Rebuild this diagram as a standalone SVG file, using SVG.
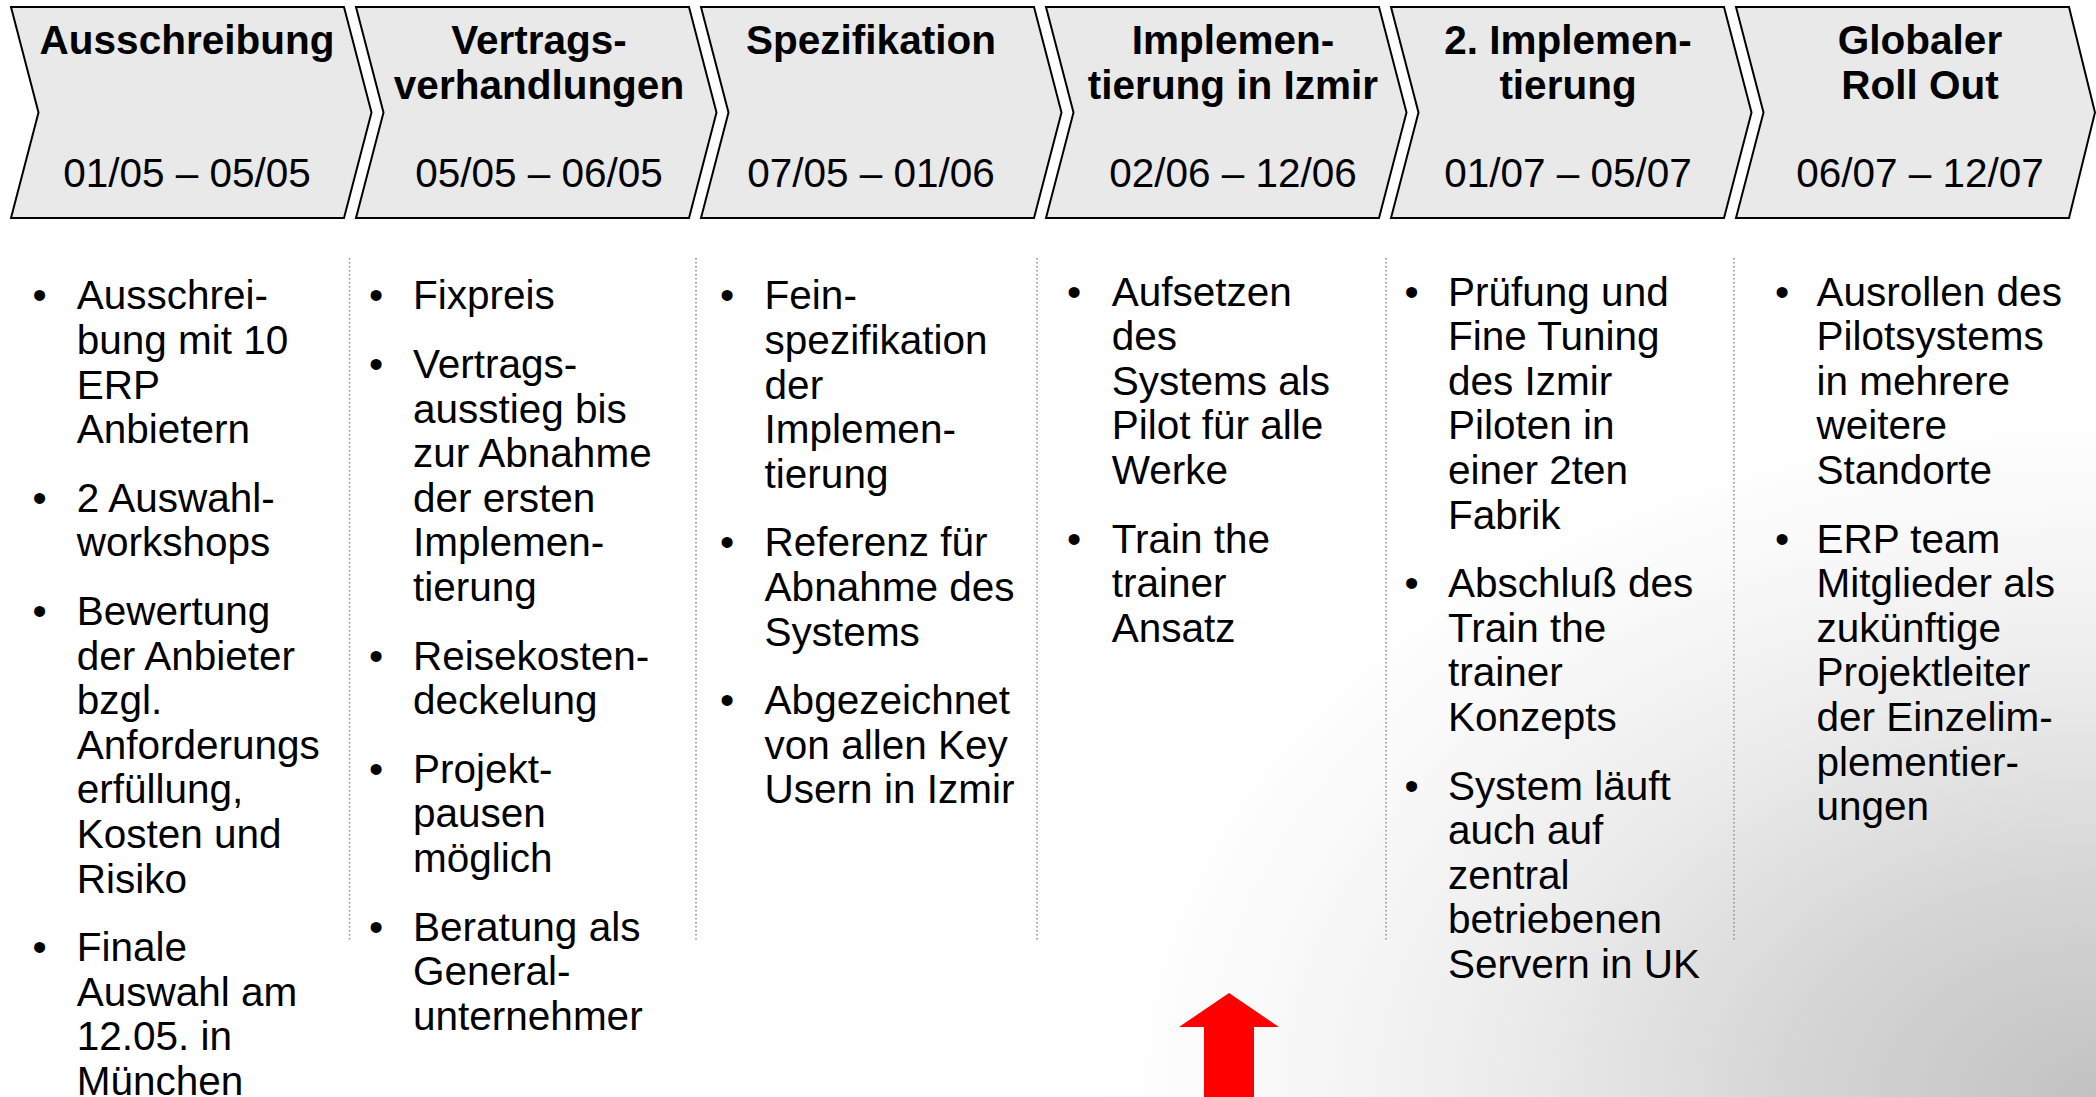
<svg xmlns="http://www.w3.org/2000/svg" width="2096" height="1097" viewBox="0 0 2096 1097">
<defs>
<radialGradient id="bg" cx="2096" cy="1097" r="1000" gradientUnits="userSpaceOnUse" gradientTransform="translate(2096 1097) scale(1 0.7) translate(-2096 -1097)">
<stop offset="0" stop-color="#c2c2c2"/>
<stop offset="0.3" stop-color="#d5d5d5"/>
<stop offset="0.6" stop-color="#ececec"/>
<stop offset="0.85" stop-color="#fafafa"/>
<stop offset="1" stop-color="#ffffff"/>
</radialGradient>
<style>
.chev{fill:#e9e9e9;stroke:#000;stroke-width:2;stroke-linejoin:miter}
.hd{font-family:"Liberation Sans",Arial,sans-serif;font-size:40.5px;font-weight:bold;fill:#000;text-anchor:middle}
.dt{font-family:"Liberation Sans",Arial,sans-serif;font-size:40.5px;fill:#000;text-anchor:middle}
.tx{font-family:"Liberation Sans",Arial,sans-serif;font-size:40.5px;fill:#000}
.bu{font-family:"Liberation Sans",Arial,sans-serif;font-size:40.5px;fill:#000;text-anchor:middle}
.sep{stroke:#8a8a8a;stroke-width:1.5;stroke-dasharray:1.5 2.5;fill:none}
</style>
</defs>
<rect x="0" y="0" width="2096" height="1097" fill="url(#bg)"/>

<g id="phase1">
<path class="chev" d="M11,7 L344,7 L371.5,112.5 L344,218 L11,218 L38.5,112.5 Z"/>
<text class="hd" x="187" y="54">Ausschreibung</text>
<text class="dt" x="187" y="187">01/05 – 05/05</text>
</g>
<g id="phase2">
<path class="chev" d="M356,7 L689,7 L716.5,112.5 L689,218 L356,218 L383.5,112.5 Z"/>
<text class="hd" x="539" y="54">Vertrags-</text>
<text class="hd" x="539" y="98.5">verhandlungen</text>
<text class="dt" x="539" y="187">05/05 – 06/05</text>
</g>
<g id="phase3">
<path class="chev" d="M701,7 L1034,7 L1061.5,112.5 L1034,218 L701,218 L728.5,112.5 Z"/>
<text class="hd" x="871" y="54">Spezifikation</text>
<text class="dt" x="871" y="187">07/05 – 01/06</text>
</g>
<g id="phase4">
<path class="chev" d="M1046,7 L1379,7 L1406.5,112.5 L1379,218 L1046,218 L1073.5,112.5 Z"/>
<text class="hd" x="1233" y="54">Implemen-</text>
<text class="hd" x="1233" y="98.5">tierung in Izmir</text>
<text class="dt" x="1233" y="187">02/06 – 12/06</text>
</g>
<g id="phase5">
<path class="chev" d="M1391,7 L1724,7 L1751.5,112.5 L1724,218 L1391,218 L1418.5,112.5 Z"/>
<text class="hd" x="1568" y="54">2. Implemen-</text>
<text class="hd" x="1568" y="98.5">tierung</text>
<text class="dt" x="1568" y="187">01/07 – 05/07</text>
</g>
<g id="phase6">
<path class="chev" d="M1736,7 L2069,7 L2095,112.5 L2069,218 L1736,218 L1763.5,112.5 Z"/>
<text class="hd" x="1920" y="54">Globaler</text>
<text class="hd" x="1920" y="98.5">Roll Out</text>
<text class="dt" x="1920" y="187">06/07 – 12/07</text>
</g>

<g id="separators">
<line class="sep" x1="349.5" y1="258" x2="349.5" y2="941"/>
<line class="sep" x1="696" y1="258" x2="696" y2="941"/>
<line class="sep" x1="1037" y1="258" x2="1037" y2="941"/>
<line class="sep" x1="1386" y1="258" x2="1386" y2="941"/>
<line class="sep" x1="1734" y1="258" x2="1734" y2="941"/>
</g>

<g id="col1">
<text class="bu" x="39.5" y="309.4">•</text>
<text class="tx" y="309.4"><tspan x="76.7">Ausschrei-</tspan><tspan x="76.7" dy="44.6">bung mit 10</tspan><tspan x="76.7" dy="44.6">ERP</tspan><tspan x="76.7" dy="44.6">Anbietern</tspan></text>
<text class="bu" x="39.5" y="511.8">•</text>
<text class="tx" y="511.8"><tspan x="76.7">2 Auswahl-</tspan><tspan x="76.7" dy="44.6">workshops</tspan></text>
<text class="bu" x="39.5" y="625">•</text>
<text class="tx" y="625"><tspan x="76.7">Bewertung</tspan><tspan x="76.7" dy="44.6">der Anbieter</tspan><tspan x="76.7" dy="44.6">bzgl.</tspan><tspan x="76.7" dy="44.6">Anforderungs</tspan><tspan x="76.7" dy="44.6">erfüllung,</tspan><tspan x="76.7" dy="44.6">Kosten und</tspan><tspan x="76.7" dy="44.6">Risiko</tspan></text>
<text class="bu" x="39.5" y="961.2">•</text>
<text class="tx" y="961.2"><tspan x="76.7">Finale</tspan><tspan x="76.7" dy="44.6">Auswahl am</tspan><tspan x="76.7" dy="44.6">12.05. in</tspan><tspan x="76.7" dy="44.6">München</tspan></text>
</g>

<g id="col2">
<text class="bu" x="376" y="309.4">•</text>
<text class="tx" y="309.4"><tspan x="413">Fixpreis</tspan></text>
<text class="bu" x="376" y="378">•</text>
<text class="tx" y="378"><tspan x="413">Vertrags-</tspan><tspan x="413" dy="44.6">ausstieg bis</tspan><tspan x="413" dy="44.6">zur Abnahme</tspan><tspan x="413" dy="44.6">der ersten</tspan><tspan x="413" dy="44.6">Implemen-</tspan><tspan x="413" dy="44.6">tierung</tspan></text>
<text class="bu" x="376" y="669.6">•</text>
<text class="tx" y="669.6"><tspan x="413">Reisekosten-</tspan><tspan x="413" dy="44.6">deckelung</tspan></text>
<text class="bu" x="376" y="782.8">•</text>
<text class="tx" y="782.8"><tspan x="413">Projekt-</tspan><tspan x="413" dy="44.6">pausen</tspan><tspan x="413" dy="44.6">möglich</tspan></text>
<text class="bu" x="376" y="940.6">•</text>
<text class="tx" y="940.6"><tspan x="413">Beratung als</tspan><tspan x="413" dy="44.6">General-</tspan><tspan x="413" dy="44.6">unternehmer</tspan></text>
</g>

<g id="col3">
<text class="bu" x="727" y="309.4">•</text>
<text class="tx" y="309.4"><tspan x="764.6">Fein-</tspan><tspan x="764.6" dy="44.6">spezifikation</tspan><tspan x="764.6" dy="44.6">der</tspan><tspan x="764.6" dy="44.6">Implemen-</tspan><tspan x="764.6" dy="44.6">tierung</tspan></text>
<text class="bu" x="727" y="556.4">•</text>
<text class="tx" y="556.4"><tspan x="764.6">Referenz für</tspan><tspan x="764.6" dy="44.6">Abnahme des</tspan><tspan x="764.6" dy="44.6">Systems</tspan></text>
<text class="bu" x="727" y="714.2">•</text>
<text class="tx" y="714.2"><tspan x="764.6">Abgezeichnet</tspan><tspan x="764.6" dy="44.6">von allen Key</tspan><tspan x="764.6" dy="44.6">Usern in Izmir</tspan></text>
</g>

<g id="col4">
<text class="bu" x="1074" y="305.5">•</text>
<text class="tx" y="305.5"><tspan x="1111.7">Aufsetzen</tspan><tspan x="1111.7" dy="44.6">des</tspan><tspan x="1111.7" dy="44.6">Systems als</tspan><tspan x="1111.7" dy="44.6">Pilot für alle</tspan><tspan x="1111.7" dy="44.6">Werke</tspan></text>
<text class="bu" x="1074" y="552.5">•</text>
<text class="tx" y="552.5"><tspan x="1111.7">Train the</tspan><tspan x="1111.7" dy="44.6">trainer</tspan><tspan x="1111.7" dy="44.6">Ansatz</tspan></text>
</g>

<g id="col5">
<text class="bu" x="1411.7" y="305.5">•</text>
<text class="tx" y="305.5"><tspan x="1448">Prüfung und</tspan><tspan x="1448" dy="44.6">Fine Tuning</tspan><tspan x="1448" dy="44.6">des Izmir</tspan><tspan x="1448" dy="44.6">Piloten in</tspan><tspan x="1448" dy="44.6">einer 2ten</tspan><tspan x="1448" dy="44.6">Fabrik</tspan></text>
<text class="bu" x="1411.7" y="597.1">•</text>
<text class="tx" y="597.1"><tspan x="1448">Abschluß des</tspan><tspan x="1448" dy="44.6">Train the</tspan><tspan x="1448" dy="44.6">trainer</tspan><tspan x="1448" dy="44.6">Konzepts</tspan></text>
<text class="bu" x="1411.7" y="799.5">•</text>
<text class="tx" y="799.5"><tspan x="1448">System läuft</tspan><tspan x="1448" dy="44.6">auch auf</tspan><tspan x="1448" dy="44.6">zentral</tspan><tspan x="1448" dy="44.6">betriebenen</tspan><tspan x="1448" dy="44.6">Servern in UK</tspan></text>
</g>

<g id="col6">
<text class="bu" x="1782" y="305.5">•</text>
<text class="tx" y="305.5"><tspan x="1816.5">Ausrollen des</tspan><tspan x="1816.5" dy="44.6">Pilotsystems</tspan><tspan x="1816.5" dy="44.6">in mehrere</tspan><tspan x="1816.5" dy="44.6">weitere</tspan><tspan x="1816.5" dy="44.6">Standorte</tspan></text>
<text class="bu" x="1782" y="552.5">•</text>
<text class="tx" y="552.5"><tspan x="1816.5">ERP team</tspan><tspan x="1816.5" dy="44.6">Mitglieder als</tspan><tspan x="1816.5" dy="44.6">zukünftige</tspan><tspan x="1816.5" dy="44.6">Projektleiter</tspan><tspan x="1816.5" dy="44.6">der Einzelim-</tspan><tspan x="1816.5" dy="44.6">plementier-</tspan><tspan x="1816.5" dy="44.6">ungen</tspan></text>
</g>

<g id="arrow">
<polygon points="1229,993 1279,1027 1254,1027 1254,1097 1204,1097 1204,1027 1179,1027" fill="#ff0000"/>
</g>
</svg>
